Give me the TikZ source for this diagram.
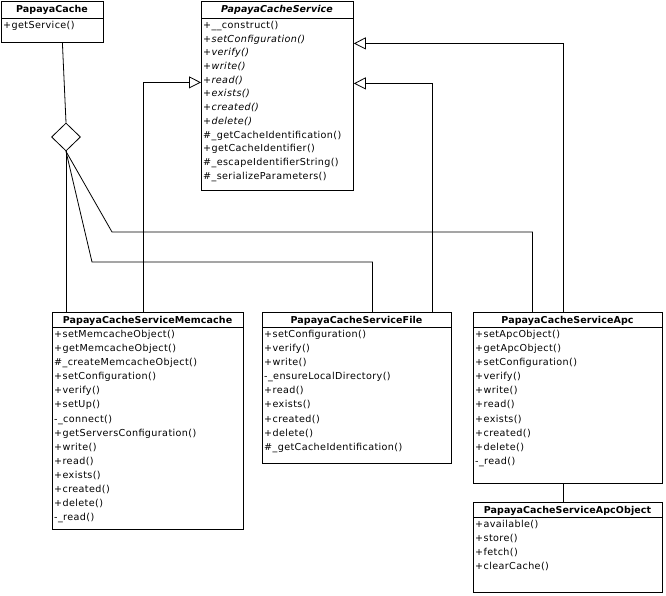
\documentclass[tikz,border=0pt]{standalone}
\usepackage{fontspec}
\setmainfont{DejaVu Sans}[LetterSpace=4]
\newfontfamily\titlefont{DejaVu Sans}[LetterSpace=1]
\usetikzlibrary{arrows.meta,positioning,shapes.geometric}
\tikzset{
cls/.style={draw,line width=.8pt,anchor=north west,inner sep=0pt},
ttl/.style={font=\titlefont\bfseries\fontsize{9.5}{11}\selectfont,anchor=base,inner sep=0pt},
ops/.style={font=\fontsize{9.6}{14.1}\selectfont,align=left,anchor=north west,inner sep=0pt},
sep/.style={line width=.8pt},
link/.style={line width=.8pt},
inh/.style={link,-{Triangle[open,length=12pt,width=12pt,line width=.8pt]}}}

\begin{document}
\begin{tikzpicture}[x=1pt,y=-1pt]
\useasboundingbox (0,0) rectangle (666,596);
% classes
\node[cls,minimum width=102pt,minimum height=41pt] (cache) at (1,1) {};
\node[ttl] (cachet) at (52,13) {PapayaCache};
\draw[sep] (1,18) -- (103,18);
\node[ops] (cacheops) at (3,21) {+getService()};

\node[cls,minimum width=152pt,minimum height=189pt] (svc) at (201,1) {};
\node[ttl,font=\titlefont\bfseries\itshape\fontsize{9.5}{11}\selectfont] (svct) at (277,13) {PapayaCacheService};
\draw[sep] (201,18) -- (353,18);
\node[ops,font=\fontsize{9.6}{13.7}\selectfont] (svcops) at (203,21) {+\_\_construct()\\\textit{+setConfiguration()}\\\textit{+verify()}\\\textit{+write()}\\\textit{+read()}\\\textit{+exists()}\\\textit{+created()}\\\textit{+delete()}\\\#\_getCacheIdentification()\\+getCacheIdentifier()\\\#\_escapeIdentifierString()\\\#\_serializeParameters()};

\node[cls,minimum width=191pt,minimum height=217pt] (mem) at (52,312) {};
\node[ttl] (memt) at (147.5,323) {PapayaCacheServiceMemcache};
\draw[sep] (52,327) -- (243,327);
\node[ops] (memops) at (54,330) {+setMemcacheObject()\\+getMemcacheObject()\\\#\_createMemcacheObject()\\+setConfiguration()\\+verify()\\+setUp()\\-\_connect()\\+getServersConfiguration()\\+write()\\+read()\\+exists()\\+created()\\+delete()\\-\_read()};

\node[cls,minimum width=189pt,minimum height=151pt] (file) at (262,312) {};
\node[ttl] (filet) at (356.5,323) {PapayaCacheServiceFile};
\draw[sep] (262,327) -- (451,327);
\node[ops] (fileops) at (264,330) {+setConfiguration()\\+verify()\\+write()\\-\_ensureLocalDirectory()\\+read()\\+exists()\\+created()\\+delete()\\\#\_getCacheIdentification()};

\node[cls,minimum width=189pt,minimum height=171pt] (apc) at (473,312) {};
\node[ttl] (apct) at (567.5,323) {PapayaCacheServiceApc};
\draw[sep] (473,327) -- (662,327);
\node[ops] (apcops) at (475,330) {+setApcObject()\\+getApcObject()\\+setConfiguration()\\+verify()\\+write()\\+read()\\+exists()\\+created()\\+delete()\\-\_read()};

\node[cls,minimum width=189pt,minimum height=90pt] (apcobj) at (473,502) {};
\node[ttl] (apcobjt) at (567.5,513) {PapayaCacheServiceApcObject};
\draw[sep] (473,517) -- (662,517);
\node[ops] (apcobjops) at (475,520) {+available()\\+store()\\+fetch()\\+clearCache()};

% association
\node[draw,diamond,line width=.8pt,minimum width=29pt,minimum height=28pt,inner sep=0pt] (agg) at (66,137) {};
\draw[link] ([xshift=10pt]cache.south) -- (agg.north);
\draw[link] (agg.south) -- (agg.south |- mem.north);
\draw[link] (agg.south) -- (92,262) -| ([xshift=15.5pt]file.north);
\draw[link] (agg.south) -- (112,232) -| ([xshift=-35.5pt]apc.north);
\draw[link] ([xshift=-4.5pt]apc.south) -- ([xshift=-4.5pt]apcobj.north);

% generalisation
\draw[inh] ([xshift=-4.5pt]mem.north) |- ([yshift=13.5pt]svc.west);
\draw[inh] ([xshift=75.5pt]file.north) |- ([yshift=12.5pt]svc.east);
\draw[inh] ([xshift=-4.5pt]apc.north) |- ([yshift=52.5pt]svc.east);
\end{tikzpicture}
\end{document}
